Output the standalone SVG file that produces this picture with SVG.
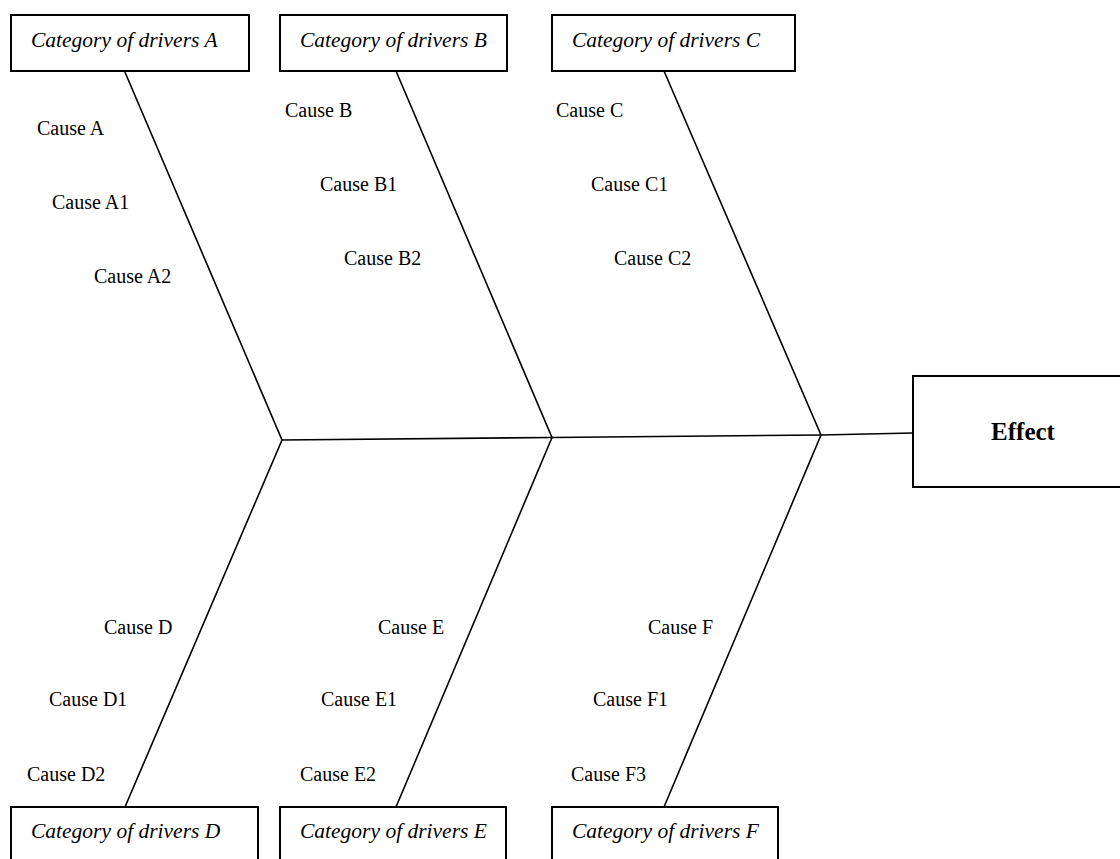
<svg xmlns="http://www.w3.org/2000/svg" width="1120" height="859" viewBox="0 0 1120 859">
  <style>
    .box { fill: #ffffff; stroke: #000000; stroke-width: 2; }
    .bone { fill: none; stroke: #000000; stroke-width: 1.6; stroke-linejoin: miter; }
    .cat { font-family: "Liberation Serif", "Times New Roman", serif; font-style: italic; font-size: 21.5px; fill: #000000; }
    .cause { font-family: "Liberation Serif", "Times New Roman", serif; font-size: 20px; fill: #000000; }
    .effect { font-family: "Liberation Serif", "Times New Roman", serif; font-weight: bold; font-size: 25px; fill: #000000; }
  </style>
  <rect width="1120" height="859" fill="#ffffff"/>

  <!-- spine and category bones -->
  <g id="connectors">
    <polyline class="bone" points="282,440 552,437.5 821,435 913,433"/>
    <polyline class="bone" points="124.5,71 282,440 125,807"/>
    <polyline class="bone" points="396,71 552,437.5 396,807"/>
    <polyline class="bone" points="664,71 821,435 664,807"/>
  </g>

  <g id="cat-a">
    <rect class="box" x="11" y="15" width="238" height="56"/>
    <text class="cat" x="31" y="47">Category of drivers A</text>
  </g>
  <g id="cat-b">
    <rect class="box" x="280" y="15" width="227" height="56"/>
    <text class="cat" x="300" y="47">Category of drivers B</text>
  </g>
  <g id="cat-c">
    <rect class="box" x="552" y="15" width="243" height="56"/>
    <text class="cat" x="572" y="47">Category of drivers C</text>
  </g>
  <g id="cat-d">
    <rect class="box" x="11" y="807" width="247" height="70"/>
    <text class="cat" x="31" y="838">Category of drivers D</text>
  </g>
  <g id="cat-e">
    <rect class="box" x="280" y="807" width="226" height="70"/>
    <text class="cat" x="300" y="838">Category of drivers E</text>
  </g>
  <g id="cat-f">
    <rect class="box" x="552" y="807" width="226" height="70"/>
    <text class="cat" x="572" y="838">Category of drivers F</text>
  </g>

  <g id="effect">
    <rect class="box" x="913" y="376" width="220" height="111"/>
    <text class="effect" x="1023" y="440" text-anchor="middle">Effect</text>
  </g>

  <g id="causes-a">
    <text class="cause" x="37" y="135">Cause A</text>
    <text class="cause" x="52" y="209">Cause A1</text>
    <text class="cause" x="94" y="283">Cause A2</text>
  </g>
  <g id="causes-b">
    <text class="cause" x="285" y="117">Cause B</text>
    <text class="cause" x="320" y="191">Cause B1</text>
    <text class="cause" x="344" y="265">Cause B2</text>
  </g>
  <g id="causes-c">
    <text class="cause" x="556" y="117">Cause C</text>
    <text class="cause" x="591" y="191">Cause C1</text>
    <text class="cause" x="614" y="265">Cause C2</text>
  </g>
  <g id="causes-d">
    <text class="cause" x="104" y="634">Cause D</text>
    <text class="cause" x="49" y="706">Cause D1</text>
    <text class="cause" x="27" y="781">Cause D2</text>
  </g>
  <g id="causes-e">
    <text class="cause" x="378" y="634">Cause E</text>
    <text class="cause" x="321" y="706">Cause E1</text>
    <text class="cause" x="300" y="781">Cause E2</text>
  </g>
  <g id="causes-f">
    <text class="cause" x="648" y="634">Cause F</text>
    <text class="cause" x="593" y="706">Cause F1</text>
    <text class="cause" x="571" y="781">Cause F3</text>
  </g>
</svg>
